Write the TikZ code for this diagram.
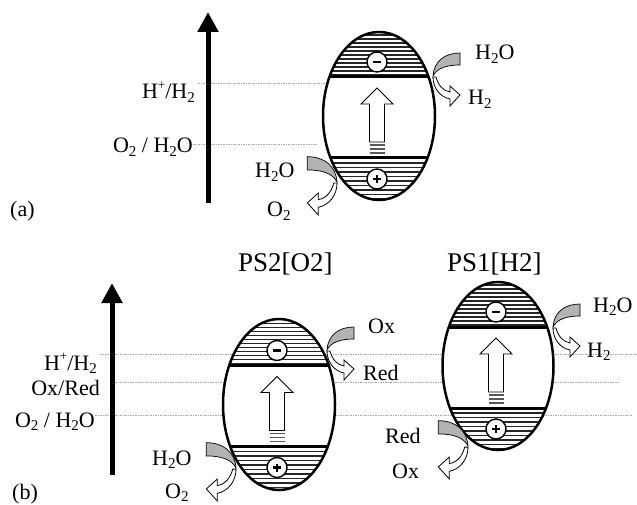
\documentclass[tikz,border=0pt]{standalone}
\usepackage{fontspec}
\setmainfont{Liberation Serif}
\usetikzlibrary{shapes.geometric,arrows.meta}
\newcommand\dn[1]{\raisebox{-0.18em}{\fontsize{15}{15}\selectfont #1}}
\newcommand\up[1]{\raisebox{0.42em}{\fontsize{13}{13}\selectfont #1}}
\tikzset{
 lvl/.style={draw=gray!70, line width=0.7pt, dash pattern=on 1.5pt off 1pt},
 hatch/.style={line width=1.4pt, black!85},
 sign/.style={circle, draw, fill=white, line width=1.4pt, minimum size=20pt, inner sep=0pt},
 ribbon/.style={fill=gray!60, draw=black, line width=0.7pt},
 hollow/.style={fill=white, draw=black, line width=0.8pt},
 lbl/.style={inner sep=0pt, font=\fontsize{22}{26}\selectfont},
 ttl/.style={inner sep=0pt, font=\fontsize{27}{32}\selectfont},
 axis/.style={line width=5pt, -{Triangle[width=20pt,length=20pt]}},
 shell/.style={ellipse, draw, line width=2.5pt, inner sep=0pt, outer sep=0pt},
}
% particle: #1 name, #2 cx, #3 cy, #4 rx, #5 ry
\newcommand\particle[5]{%
  \fill[white] (#2,#3) ellipse [x radius=#4pt, y radius=#5pt];
  \begin{scope}
    \clip (#2,#3) ellipse [x radius=#4pt, y radius=#5pt];
    \foreach \k in {0,...,11} \draw[hatch] (#2-60,#3-41-4*\k) -- (#2+60,#3-41-4*\k);
    \foreach \k in {0,...,9} \draw[hatch] (#2-60,#3+47+4.5*\k) -- (#2+60,#3+47+4.5*\k);
    \draw[line width=3pt] (#2-60,#3-39) -- (#2+60,#3-39);
    \draw[line width=3pt] (#2-60,#3+42) -- (#2+60,#3+42);
  \end{scope}
  \node[shell, minimum width=2*#4pt, minimum height=2*#5pt] (#1) at (#2,#3) {};
  \node[sign] (#1m) at (#2-2,#3-54) {};
  \draw[line width=2.5pt] (#1m.center) +(-4,0) -- +(4,0);
  \node[sign] (#1p) at (#2-2,#3+63) {};
  \draw[line width=2.5pt] (#1p.center) +(-4,0) -- +(4,0) +(0,-4) -- +(0,4);
  \draw[hollow] (#2-2,#3-28) -- (#2+14,#3-12) -- (#2+5.5,#3-12) -- (#2+5.5,#3+26)
     -- (#2-9.5,#3+26) -- (#2-9.5,#3-12) -- (#2-18,#3-12) -- cycle;
  \foreach \s in {29,33,37} \draw[line width=1.5pt, black!65] (#2-9.5,#3+\s) -- (#2+5.5,#3+\s);
}
% curved reaction arrow at point #1, scales #2 #3
\newcommand\curvy[3]{%
  \begin{scope}[shift={#1}, xscale=#2, yscale=#3]
    \draw[ribbon] (27,-23) .. controls (12,-23) and (1,-15) .. (0,0)
       .. controls (4,-8) and (14,-11) .. (27,-11) -- cycle;
    \draw[hollow] (0,1) .. controls (0,12) and (7,21) .. (17,23) -- (17,30) -- (27,19)
       -- (17,10) -- (17,16) .. controls (10,15) and (5,9) .. (3,1) -- cycle;
  \end{scope}}
\begin{document}
\begin{tikzpicture}[x={(1pt,0pt)}, y={(0pt,-1pt)}]
\useasboundingbox (0,0) rectangle (637,505);
% ---------- (a) ----------
\coordinate (aL1s) at (198,83);  \coordinate (aL1e) at (326,83);
\coordinate (aL2s) at (193,144); \coordinate (aL2e) at (318,144);
\draw[lvl] (aL1s) -- (aL1e);
\draw[lvl] (aL2s) -- (aL2e);
\coordinate (aA0) at (208,203); \coordinate (aA1) at (208,12);
\draw[axis] (aA0) -- (aA1);
\particle{pa}{379}{116}{56}{84}
\curvy{(433,76)}{1}{1}
\curvy{(337,182)}{-1.1}{1.1}
\node[lbl, anchor=base east] (aHH) at (195,99) {H\up{+}/H\dn{2}};
\node[lbl, anchor=base east] (aOH) at (193,153) {O\dn{2} / H\dn{2}O};
\node[lbl, anchor=base west] (aWin) at (255,178) {H\dn{2}O};
\node[lbl, anchor=base west] (aOout) at (267,217) {O\dn{2}};
\node[lbl, anchor=base west] (aTag) at (10,216) {(a)};
\node[lbl, anchor=base west] (aWtop) at (475,60) {H\dn{2}O};
\node[lbl, anchor=base west] (aHout) at (468,105) {H\dn{2}};
% ---------- (b) ----------
\coordinate (bL1s) at (100,354); \coordinate (bL1e) at (637,354);
\coordinate (bL2s) at (115,382); \coordinate (bL2e) at (618,382);
\coordinate (bL3s) at (95,415);  \coordinate (bL3e) at (632,415);
\draw[lvl] (bL1s) -- (bL1e);
\draw[lvl] (bL2s) -- (bL2e);
\draw[lvl] (bL3s) -- (bL3e);
\coordinate (bA0) at (112,475); \coordinate (bA1) at (112,283);
\draw[axis] (bA0) -- (bA1);
\particle{ps2}{279}{404.5}{56}{85.5}
\particle{ps1}{498}{366}{55.5}{84}
\curvy{(327,350)}{1}{1}
\curvy{(236,468)}{-1.1}{1.1}
\curvy{(553,327)}{1}{1}
\curvy{(468,446)}{-1.1}{1.1}
\node[ttl, anchor=base west] (t2) at (238,271) {PS2[O2]};
\node[ttl, anchor=base west] (t1) at (447,271) {PS1[H2]};
\node[lbl, anchor=base east] (bHH) at (97,370) {H\up{+}/H\dn{2}};
\node[lbl, anchor=base east] (bOR) at (100,395) {Ox/Red};
\node[lbl, anchor=base east] (bOH) at (95,427) {O\dn{2} / H\dn{2}O};
\node[lbl, anchor=base west] (bWin) at (152,465) {H\dn{2}O};
\node[lbl, anchor=base west] (bOout) at (165,498) {O\dn{2}};
\node[lbl, anchor=base west] (bTag) at (12,499) {(b)};
\node[lbl, anchor=base west] (bOx1) at (368,333) {Ox};
\node[lbl, anchor=base west] (bRed1) at (363,380) {Red};
\node[lbl, anchor=base west] (bRed2) at (385,443) {Red};
\node[lbl, anchor=base west] (bOx2) at (392,478) {Ox};
\node[lbl, anchor=base west] (bWtop) at (593,312) {H\dn{2}O};
\node[lbl, anchor=base west] (bHout) at (587,357) {H\dn{2}};
\end{tikzpicture}
\end{document}
